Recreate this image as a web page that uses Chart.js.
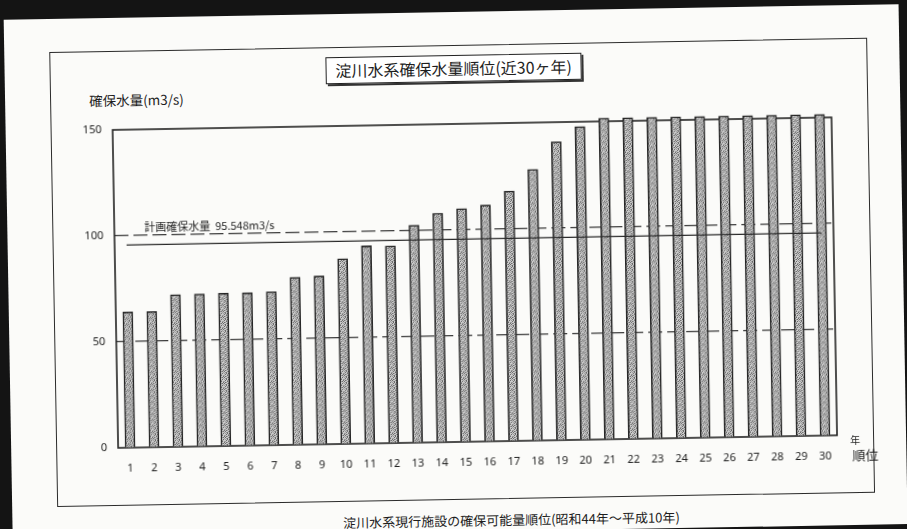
<!DOCTYPE html>
<html lang="ja">
<head>
<meta charset="utf-8">
<title>淀川水系確保水量順位</title>
<script src="https://cdn.jsdelivr.net/npm/chart.js@4.4.1/dist/chart.umd.min.js"></script>
<style>
  html, body {
    margin: 0;
    padding: 0;
    width: 907px;
    height: 529px;
    overflow: hidden;
    background: #141414;
    font-family: "Noto Sans CJK JP", "Noto Sans", sans-serif;
    color: #1e1e1e;
  }
  .paper {
    position: absolute;
    left: 8px;
    top: 12px;
    width: 895px;
    height: 520px;
    background: #fbfbf9;
    transform: rotate(-1deg);
    transform-origin: 445px 252px;
  }
  .frame {
    position: absolute;
    left: 45px;
    top: 33px;
    width: 818px;
    height: 455px;
    box-sizing: border-box;
    border: 1.5px solid #2b2b2b;
  }
  .title-box {
    position: absolute;
    left: 321px;
    top: 43px;
    width: 256px;
    height: 27px;
    box-sizing: border-box;
    border: 1px solid #222;
    box-shadow: 2px 2px 0 #333;
    background: #fff;
    font-size: 16px;
    line-height: 25px;
    text-align: center;
    white-space: nowrap;
  }
  .txt {
    position: absolute;
    white-space: nowrap;
  }
  #chart {
    position: absolute;
    left: 52px;
    top: 88px;
  }
</style>
</head>
<body>
<div class="paper">
  <div class="frame"></div>
  <div class="title-box">淀川水系確保水量順位(近30ヶ年)</div>
  <div class="txt" style="left:84px; top:73px; font-size:13.5px; line-height:18px;">確保水量(m3/s)</div>
  <canvas id="chart" width="800" height="385"></canvas>
  <div class="txt" style="left:839px; top:429px; font-size:10px; line-height:12px;">年</div>
  <div class="txt" style="left:841px; top:442px; font-size:13px; line-height:16px;">順位</div>
  <div class="txt" style="left:499px; top:501px; font-size:13px; line-height:16px; transform:translateX(-50%);">淀川水系現行施設の確保可能量順位(昭和44年～平成10年)</div>
</div>

<script>
// Datos
const ranks = ['1', '2', '3', '4', '5', '6', '7', '8', '9', '10',
               '11', '12', '13', '14', '15', '16', '17', '18', '19', '20',
               '21', '22', '23', '24', '25', '26', '27', '28', '29', '30'];
const securedFlow = [64, 64, 71.8, 71.9, 72.1, 72.1, 72.4, 79, 79.4, 87.4,
                     93.2, 93, 102.6, 108, 110, 111.5, 117.9, 127.9, 140.8, 147.7,
                     151.5, 151.5, 151.5, 151.5, 151.5, 151.5, 151.5, 151.5, 151.5, 151.5];
const planFlow = 95.548;
const planLabel = '計画確保水量  95.548m3/s';
const yTicks = [0, 50, 100, 150];
const dashedLevels = [50, 100];

// Trama gris punteada para las barras (fija, no aleatoria)
const makeStipple = () => {
    const rows = [
        '.#.o..',
        'o..#.o',
        '.#o..#',
        '#..o#.',
        '.o#..o',
        'o.#.#.'
    ];
    const shades = { '.': '#cdcdcd', '#': '#676767', 'o': '#9a9a9a' };
    const c = document.createElement('canvas');
    c.width = 6;
    c.height = 6;
    const g = c.getContext('2d');
    rows.forEach((row, y) => {
        [...row].forEach((ch, x) => {
            g.fillStyle = shades[ch];
            g.fillRect(x, y, 1, 1);
        });
    });
    return g.createPattern(c, 'repeat');
};

const ctx = document.getElementById('chart').getContext('2d');

// Caja del área de trazado y rótulo del caudal previsto
const plotBits = {
    id: 'plotBits',
    beforeDatasetsDraw(chart) {
        const { ctx, chartArea: a } = chart;
        ctx.save();
        ctx.strokeStyle = '#222';
        ctx.lineWidth = 1.6;
        ctx.strokeRect(a.left, a.top, a.right - a.left, a.bottom - a.top);
        ctx.restore();
    },
    afterDatasetsDraw(chart) {
        const { ctx, chartArea: a, scales } = chart;
        const y = scales.y.getPixelForValue(planFlow);
        ctx.save();
        ctx.fillStyle = '#1e1e1e';
        ctx.font = '11px "Noto Sans CJK JP", "Noto Sans", sans-serif';
        ctx.textBaseline = 'middle';
        ctx.textAlign = 'left';
        ctx.fillText(planLabel, a.left + 30, y - 18);
        ctx.restore();
    }
};

new Chart(ctx, {
    data: {
        labels: ranks,
        datasets: [
            {
                type: 'line',
                data: ranks.map(() => planFlow),
                borderColor: '#2a2a2a',
                borderWidth: 1.3,
                pointRadius: 0,
                fill: false,
                order: 0
            },
            {
                type: 'bar',
                data: securedFlow,
                backgroundColor: makeStipple(),
                borderColor: '#262626',
                borderWidth: 1.6,
                barThickness: 10,
                clip: false,
                order: 1
            }
        ]
    },
    options: {
        responsive: false,
        devicePixelRatio: 1,
        animation: false,
        layout: { padding: { left: 0, right: 26, top: 24, bottom: 0 } },
        plugins: {
            legend: { display: false },
            tooltip: { enabled: false }
        },
        scales: {
            x: {
                grid: { display: false, drawTicks: false },
                border: { display: false },
                ticks: {
                    autoSkip: false,
                    maxRotation: 0,
                    padding: 14,
                    color: '#222',
                    font: { size: 11, family: '"Noto Sans", sans-serif' }
                },
                afterFit: (scale) => { scale.height = 43; }
            },
            y: {
                min: 0,
                max: 150,
                afterBuildTicks: (scale) => { scale.ticks = yTicks.map(v => ({ value: v })); },
                grid: {
                    drawTicks: false,
                    lineWidth: 1.2,
                    color: (c) => dashedLevels.includes(c.tick && c.tick.value) ? '#3a3a3a' : 'rgba(0,0,0,0)'
                },
                border: { display: false, dash: [14, 5] },
                ticks: {
                    padding: 11,
                    color: '#222',
                    font: { size: 11, family: '"Noto Sans", sans-serif' }
                },
                afterFit: (scale) => { scale.width = 55; }
            }
        }
    },
    plugins: [plotBits]
});
</script>
</body>
</html>
